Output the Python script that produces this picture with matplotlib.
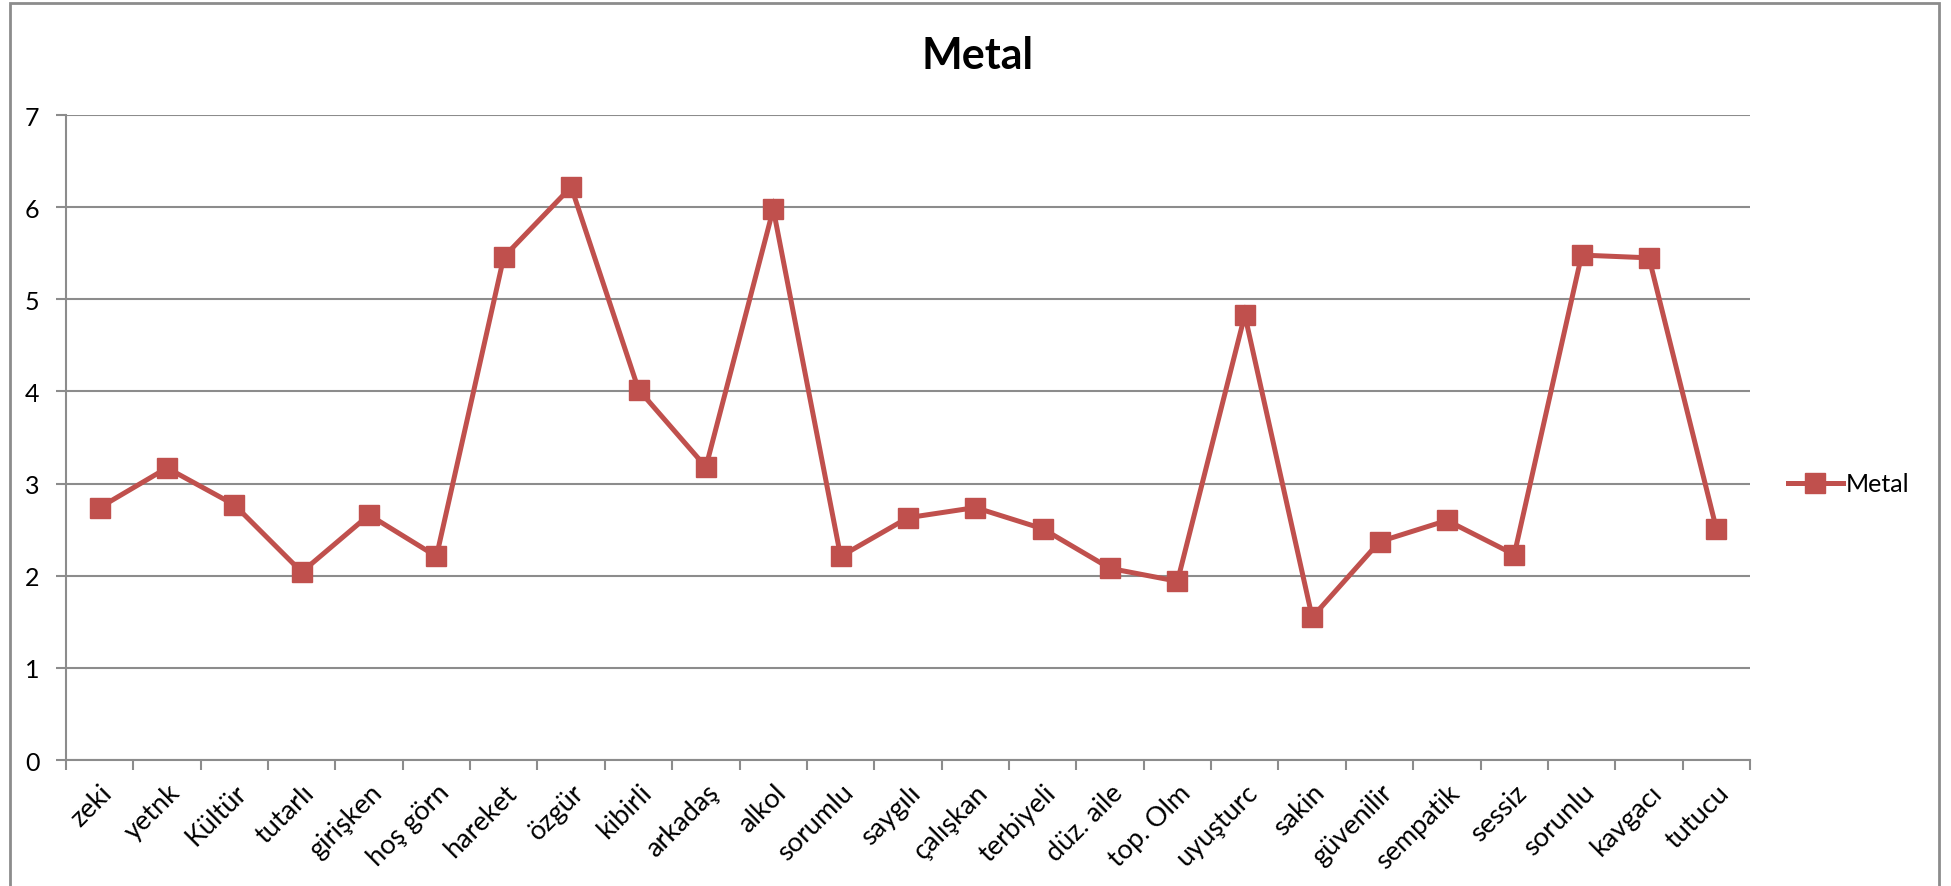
import numpy as np
import matplotlib.pyplot as plt
from matplotlib.patches import Rectangle

# Kategoriler ve ortalama puanlar
etiketler = ["zeki", "yetnk", "Kültür", "tutarlı", "girişken", "hoş görn", "hareket",
             "özgür", "kibirli", "arkadaş", "alkol", "sorumlu", "saygılı", "çalışkan",
             "terbiyeli", "düz. aile", "top. Olm", "uyuşturc", "sakin", "güvenilir",
             "sempatik", "sessiz", "sorunlu", "kavgacı", "tutucu"]
metal = [2.74, 3.17, 2.77, 2.04, 2.66, 2.21, 5.46, 6.22, 4.02, 3.18, 5.98, 2.21, 2.63,
         2.74, 2.51, 2.08, 1.94, 4.83, 1.55, 2.37, 2.60, 2.23, 5.48, 5.45, 2.51]
y_ticks = [0, 1, 2, 3, 4, 5, 6, 7]

plt.rcParams['font.family'] = ['Lato', 'DejaVu Sans']
renk = '#C0504D'
gri = '#8C8C8C'

fig = plt.figure(figsize=(19.51, 8.87), dpi=100)
ax = fig.add_axes([0.0338, 0.142, 0.8632, 0.7272])

x = np.arange(len(metal))
ax.plot(x, metal, color=renk, lw=3.6, marker='s', ms=14, mec=renk, label='Metal',
        solid_joinstyle='miter', zorder=3)

ax.set_xlim(-0.5, len(metal) - 0.5)
ax.set_ylim(0, 7)
ax.set_yticks(y_ticks)
ax.yaxis.grid(True, color=gri, lw=1.5)
ax.set_axisbelow(True)

for s in ['top', 'right']:
    ax.spines[s].set_visible(False)
for s in ['left', 'bottom']:
    ax.spines[s].set_color(gri)
    ax.spines[s].set_linewidth(1.5)

ax.tick_params(axis='y', length=7, width=1.5, color=gri, labelsize=18, pad=12)
# kategori sınırlarında tik, ortada etiket
ax.set_xticks(x)
ax.set_xticklabels(etiketler, rotation=45, ha='right', rotation_mode='anchor', fontsize=19.5)
ax.tick_params(axis='x', which='major', length=0, pad=14)
ax.set_xticks(np.arange(len(metal) + 1) - 0.5, minor=True)
ax.tick_params(axis='x', which='minor', length=7, width=1.5, color=gri)

fig.text(0.501, 0.937, 'Metal', ha='center', va='center', fontsize=31, fontweight='bold')

ax.legend(loc='center left', bbox_to_anchor=(1.015, 0.428), frameon=False, fontsize=18,
          handlelength=2.2, handletextpad=0.1, borderpad=0)

# dış çerçeve
fig.patches.append(Rectangle((10 / 1951, -0.05), 1929 / 1951, 1.045, transform=fig.transFigure,
                             fill=False, ec=gri, lw=2))

fig.savefig('out.png', dpi=100)
